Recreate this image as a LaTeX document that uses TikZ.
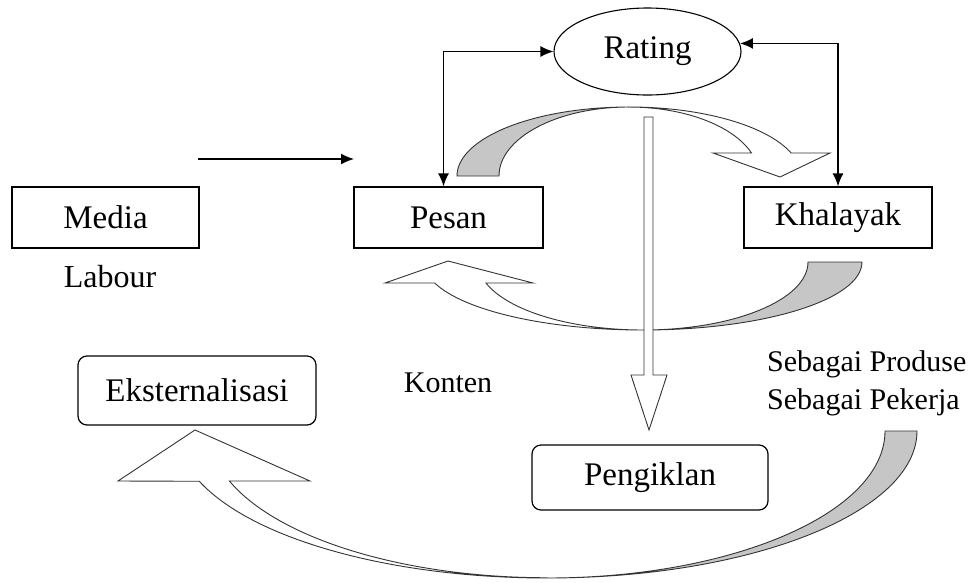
\documentclass[tikz,border=0pt]{standalone}
\usepackage{fontspec}
\setmainfont{Liberation Serif}
\usepackage{tikz}
\usetikzlibrary{shapes.geometric,arrows.meta}

\begin{document}
\begin{tikzpicture}[x=1pt, y=1pt,
    box/.style={shape=rectangle, draw, line width=1.2pt, inner sep=0pt, minimum height=61pt, font=\fontsize{33}{40}\selectfont},
    rbox/.style={box, rounded corners=9pt},
    lbl/.style={inner sep=0pt, font=\fontsize{30}{38}\selectfont},
    tip/.style={-{Latex[length=13pt,width=11pt]}},
    link/.style={line width=1.5pt, {Latex[length=13pt,width=11pt]}-{Latex[length=13pt,width=11pt]}},
    back/.style={draw=black!80, line width=0.9pt, fill=gray!45},
    front/.style={draw=black!80, line width=0.9pt, fill=white}]
    \useasboundingbox (0,0) rectangle (969,-582);

    \node[box, minimum width=187pt] (media) at (105.5,-217.5) {Media};
    \node[lbl, font=\fontsize{32}{38}\selectfont] (labour) at (110,-277) {Labour};
    \node[box, minimum width=189pt] (pesan) at (448.5,-217.5) {Pesan};
    \node[box, minimum width=188pt] (khalayak) at (838,-217.5) {Khalayak};
    \node[shape=ellipse, draw, line width=1.1pt, inner sep=0pt, minimum width=187pt, minimum height=87pt,
        font=\fontsize{33}{40}\selectfont] (rating) at (647.5,-51.5) {Rating};
    \node[rbox, minimum width=238pt, minimum height=69pt] (eksternal) at (197,-390.5) {Eksternalisasi};
    \node[rbox, minimum width=236pt, minimum height=65pt] (iklan) at (650,-477.5) {Pengiklan};
    \node[lbl] (konten) at (448,-383) {Konten};
    \node[lbl, align=left, anchor=west] (peran) at (767,-383) {Sebagai Produse\\Sebagai Pekerja};

    \coordinate (mediastart) at (198,-159);
    \coordinate (mediaend) at (354,-159);
    \draw[line width=1.5pt, tip] (mediastart) -- (mediaend);
    \draw[link] (rating.west) -| ([xshift=-5pt]pesan.north);
    \draw[link] (rating.5) -| (khalayak.north);

    % over the top: Pesan to Khalayak
    \draw[back] (457,-176) arc[start angle=180, end angle=90, x radius=172, y radius=69]
        arc[start angle=90, end angle=180, x radius=130, y radius=69] -- cycle;
    \draw[front] (629,-107) arc[start angle=90, end angle=19.5, x radius=172, y radius=69]
        -- (830,-153) -- (780,-177) -- (713,-153) -- (751.5,-153)
        arc[start angle=19.5, end angle=90, x radius=130, y radius=69] -- cycle;

    % underneath: Khalayak back to Pesan
    \draw[back] (862,-262) arc[start angle=0, end angle=-90, x radius=219, y radius=68]
        arc[start angle=-90, end angle=0, x radius=165, y radius=68] -- cycle;
    \draw[front] (643,-330) arc[start angle=-90, end angle=-162, x radius=219, y radius=68]
        -- (385,-283) -- (448,-261) -- (533,-283) -- (486,-283)
        arc[start angle=-162, end angle=-90, x radius=165, y radius=68] -- cycle;

    % large loop to Eksternalisasi
    \draw[back] (917,-431) arc[start angle=0, end angle=-90, x radius=370, y radius=147]
        arc[start angle=-90, end angle=0, x radius=338, y radius=147] -- cycle;
    \draw[front] (547,-578) arc[start angle=-90, end angle=-160, x radius=370, y radius=147]
        -- (118,-481) -- (195,-430) -- (310,-481) -- (229.4,-481)
        arc[start angle=-160, end angle=-90, x radius=338, y radius=147] -- cycle;

    % down to Pengiklan
    \draw[front] (644,-117) -- (653,-117) -- (653,-375) -- (667,-375) -- (649,-430)
        -- (631,-375) -- (644,-375) -- cycle;
\end{tikzpicture}
\end{document}
